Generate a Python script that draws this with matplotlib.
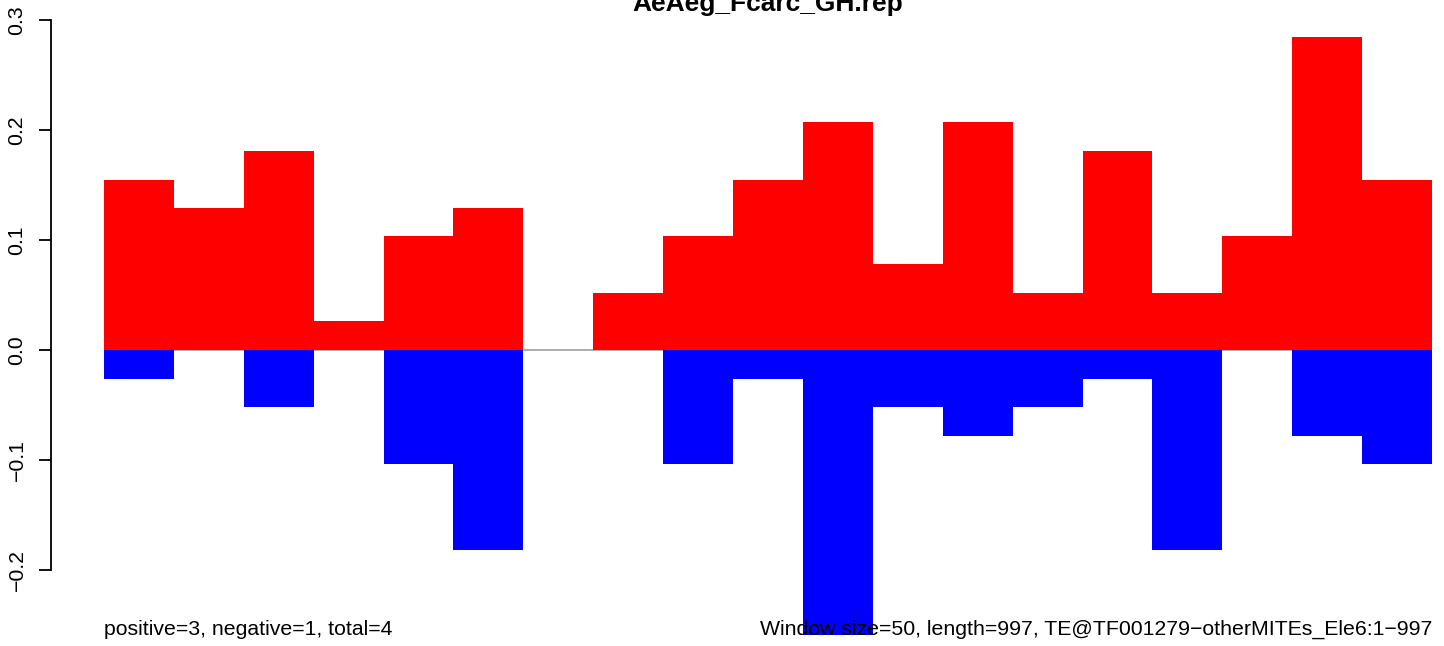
import matplotlib
matplotlib.use("Agg")
import matplotlib.pyplot as plt
import numpy as np

plt.rcParams['font.family'] = ['Liberation Sans', 'DejaVu Sans']

title = "AeAeg_Fcarc_GH.rep"
# fraction of reads per 50 bp window, sense (positive) and antisense (negative)
positive = [0.155, 0.129, 0.181, 0.026, 0.104, 0.129, 0.0, 0.052, 0.104, 0.155,
            0.207, 0.078, 0.207, 0.052, 0.181, 0.052, 0.104, 0.285, 0.155]
negative = [-0.026, 0.0, -0.052, 0.0, -0.104, -0.182, 0.0, 0.0, -0.104, -0.026,
            -0.259, -0.052, -0.078, -0.052, -0.026, -0.182, 0.0, -0.078, -0.104]
yticks = [-0.2, -0.1, 0.0, 0.1, 0.2, 0.3]
ytick_labels = ["\u22120.2", "\u22120.1", "0.0", "0.1", "0.2", "0.3"]
left_note = "positive=3, negative=1, total=4"
right_note = "Window size=50, length=997, TE@TF001279\u2212otherMITEs_Ele6:1\u2212997"

W, H = 1444, 646
fig = plt.figure(figsize=(W / 100, H / 100), dpi=100)
x_left, x_right = 104, 1432
y_zero, px_per_unit = 350, 1100
ax = fig.add_axes([x_left / W, 0, (x_right - x_left) / W, 1])
ax.set_ylim(-(H - y_zero) / px_per_unit, y_zero / px_per_unit)
n = len(positive)
ax.set_xlim(0, n)

x = np.arange(n)
ax.axhline(0, color="#a0a0a0", lw=1.2, zorder=1)
ax.bar(x, positive, width=1.0, align="edge", color="#ff0000", linewidth=0, zorder=2)
ax.bar(x, negative, width=1.0, align="edge", color="#0000ff", linewidth=0, zorder=2)

for s in ["top", "right", "bottom"]:
    ax.spines[s].set_visible(False)
ax.spines["left"].set_position(("outward", (x_left - 51) * 0.72))
ax.spines["left"].set_bounds(yticks[0], yticks[-1])
ax.spines["left"].set_linewidth(1.3)
ax.set_xticks([])
ax.set_yticks(yticks)
ax.set_yticklabels(ytick_labels, rotation=90, va="center", fontsize=15.3)
ax.tick_params(axis="y", length=12 * 0.72, width=1.3, pad=9)

fig.text(768 / W, 1 - 11 / H, title, ha="center", va="baseline",
         fontsize=19, fontweight="bold")
fig.text(x_left / W, 1 - 635 / H, left_note, ha="left", va="baseline", fontsize=15.3)
fig.text(x_right / W, 1 - 635 / H, right_note, ha="right", va="baseline", fontsize=15.3)

fig.savefig("out.png", dpi=100)
